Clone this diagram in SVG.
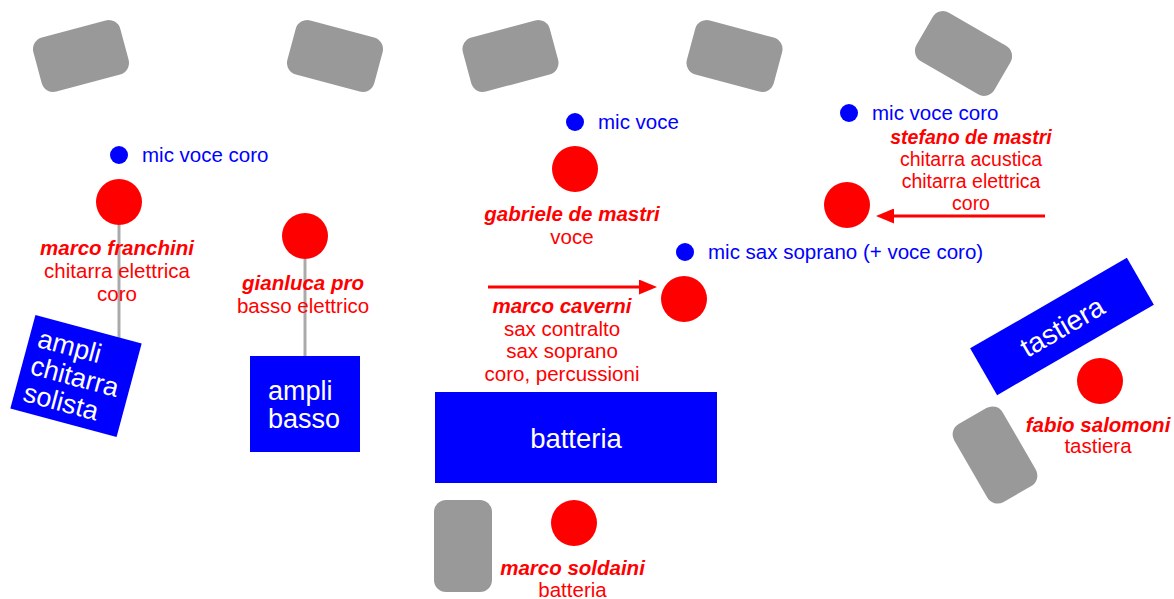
<svg xmlns="http://www.w3.org/2000/svg" width="1174" height="599" viewBox="0 0 1174 599">
<style>
.mon{fill:#999999}
.per{fill:#ff0000}
.mic{fill:#0000ff}
.box{fill:#0000ff}
.lbl{font-family:"Liberation Sans",Arial,sans-serif;font-size:20.5px;fill:#ff0000;text-anchor:middle}
.sm{font-size:19.5px}
.nm{font-weight:bold;font-style:italic}
.mt{font-family:"Liberation Sans",Arial,sans-serif;font-size:20.5px;fill:#0000ff}
.wt{font-family:"Liberation Sans",Arial,sans-serif;font-size:27px;fill:#ffffff}
.lead{stroke:#aaaaaa;stroke-width:3;fill:none}
.arr{stroke:#ff0000;stroke-width:3;fill:none}
</style>
<defs>
<marker id="ah" markerUnits="userSpaceOnUse" markerWidth="18" markerHeight="15" refX="8" refY="7.5" orient="auto">
<path d="M0,0 L18,7.5 L0,15 z" fill="#ff0000"/>
</marker>
</defs>
<rect width="1174" height="599" fill="#ffffff"/>

<g id="connectors">
<line class="lead" x1="119" y1="225" x2="119" y2="345"/>
<line class="lead" x1="305" y1="259" x2="305" y2="358"/>
<line class="arr" x1="488" y1="287" x2="647" y2="287" marker-end="url(#ah)"/>
<line class="arr" x1="1045" y1="216" x2="886" y2="216" marker-end="url(#ah)"/>
</g>

<g id="monitor1"><rect class="mon" x="-45" y="-28" width="90" height="56" rx="12" transform="translate(81,56) rotate(-15)"/></g>
<g id="monitor2"><rect class="mon" x="-45" y="-28" width="90" height="56" rx="12" transform="translate(335,56) rotate(15)"/></g>
<g id="monitor3"><rect class="mon" x="-45" y="-28" width="90" height="56" rx="12" transform="translate(510.5,56) rotate(-15)"/></g>
<g id="monitor4"><rect class="mon" x="-45" y="-28" width="90" height="56" rx="12" transform="translate(734.5,56) rotate(15)"/></g>
<g id="monitor5"><rect class="mon" x="-45" y="-28" width="90" height="56" rx="12" transform="translate(963.5,53.5) rotate(30)"/></g>
<g id="monitor6"><rect class="mon" x="-28" y="-45" width="56" height="90" rx="12" transform="translate(995,455) rotate(-30)"/></g>
<g id="monitor7"><rect class="mon" x="434" y="500" width="58" height="92" rx="12"/></g>

<g id="ampli-chitarra">
<g transform="translate(76,376) rotate(15)">
<rect class="box" x="-55" y="-48.5" width="110" height="97"/>
<text class="wt" x="-46" y="-18">ampli</text>
<text class="wt" x="-46" y="10">chitarra</text>
<text class="wt" x="-46" y="38">solista</text>
</g>
</g>

<g id="ampli-basso">
<rect class="box" x="250" y="356" width="110" height="96"/>
<text class="wt" x="268" y="400">ampli</text>
<text class="wt" x="268" y="428">basso</text>
</g>

<g id="batteria">
<rect class="box" x="435" y="392" width="282" height="91"/>
<text class="wt" x="576" y="448" text-anchor="middle" style="font-size:27.5px">batteria</text>
</g>

<g id="tastiera">
<g transform="translate(1062,326.5) rotate(-30)">
<rect class="box" x="-90.5" y="-27" width="181" height="54"/>
<text class="wt" x="0" y="10" text-anchor="middle" style="font-size:28px">tastiera</text>
</g>
</g>

<g id="mic-franchini"><circle class="mic" cx="119" cy="155" r="9"/><text class="mt" x="142" y="162">mic voce coro</text></g>
<g id="mic-gabriele"><circle class="mic" cx="575" cy="122" r="9"/><text class="mt" x="598" y="129">mic voce</text></g>
<g id="mic-caverni"><circle class="mic" cx="685" cy="252" r="9"/><text class="mt" x="708" y="259">mic sax soprano (+ voce coro)</text></g>
<g id="mic-stefano"><circle class="mic" cx="849" cy="113" r="9"/><text class="mt" x="872" y="120">mic voce coro</text></g>

<g id="franchini">
<circle class="per" cx="119" cy="202" r="23"/>
<text class="lbl nm" x="117" y="255">marco franchini</text>
<text class="lbl" x="117" y="278">chitarra elettrica</text>
<text class="lbl" x="117" y="301">coro</text>
</g>

<g id="gianluca">
<circle class="per" cx="305" cy="236" r="23"/>
<text class="lbl nm" x="303" y="290">gianluca pro</text>
<text class="lbl" x="303" y="313">basso elettrico</text>
</g>

<g id="gabriele">
<circle class="per" cx="575" cy="169" r="23"/>
<text class="lbl nm" x="572" y="221">gabriele de mastri</text>
<text class="lbl" x="572" y="244">voce</text>
</g>

<g id="caverni">
<circle class="per" cx="684" cy="299" r="23"/>
<text class="lbl nm" x="562" y="313">marco caverni</text>
<text class="lbl" x="562" y="335.5">sax contralto</text>
<text class="lbl" x="562" y="358">sax soprano</text>
<text class="lbl" x="562" y="380.5">coro, percussioni</text>
</g>

<g id="stefano">
<circle class="per" cx="847" cy="205" r="23"/>
<text class="lbl sm nm" x="971" y="144">stefano de mastri</text>
<text class="lbl sm" x="971" y="166">chitarra acustica</text>
<text class="lbl sm" x="971" y="188">chitarra elettrica</text>
<text class="lbl sm" x="971" y="210">coro</text>
</g>

<g id="fabio">
<circle class="per" cx="1100" cy="381" r="23"/>
<text class="lbl nm" x="1098" y="432">fabio salomoni</text>
<text class="lbl" x="1098" y="453">tastiera</text>
</g>

<g id="soldaini">
<circle class="per" cx="574" cy="523" r="23"/>
<text class="lbl nm" x="572.5" y="575">marco soldaini</text>
<text class="lbl" x="572.5" y="597">batteria</text>
</g>
</svg>
